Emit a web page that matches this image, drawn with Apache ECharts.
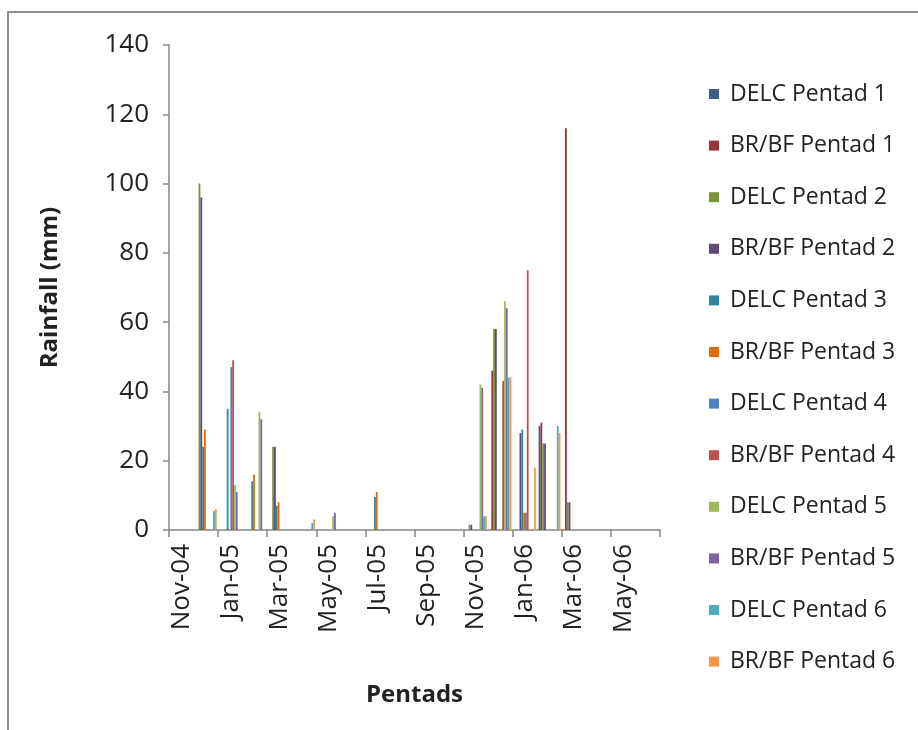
<!DOCTYPE html>
<html>
<head>
<meta charset="utf-8">
<script src="https://cdn.jsdelivr.net/npm/echarts@6/dist/echarts.min.js"></script>
<style>
html,body{margin:0;padding:0;background:#fff;}
#chart{width:918px;height:730px;}
</style>
</head>
<body>
<div id="chart"></div>
<script>
// Months (category slots) on the date axis
const months = ["Nov-04","Dec-04","Jan-05","Feb-05","Mar-05","Apr-05","May-05","Jun-05","Jul-05","Aug-05","Sep-05","Oct-05","Nov-05","Dec-05","Jan-06","Feb-06","Mar-06","Apr-06","May-06","Jun-06"];
const yTicks = [0,20,40,60,80,100,120,140];
const seriesNames = ["DELC Pentad 1","BR/BF Pentad 1","DELC Pentad 2","BR/BF Pentad 2","DELC Pentad 3","BR/BF Pentad 3","DELC Pentad 4","BR/BF Pentad 4","DELC Pentad 5","BR/BF Pentad 5","DELC Pentad 6","BR/BF Pentad 6"];
const seriesColors = ["#3A5F8E","#953735","#77933C","#604A7B","#31859C","#E46C0A","#4F81BD","#C0504D","#9BBB59","#8064A2","#4BACC6","#F79646"];

// Rainfall (mm) per month, one array per series (null = no bar)
const delcP1  = [null,null,null,null,null,null,null,null,null,null,null,null,null,null,null,30,null,null,null,null];
const brbfP1  = [null,null,null,null,null,null,null,null,null,null,null,null,null,46,null,31,116,null,null,null];
const delcP2  = [null,100,null,null,24,null,null,null,null,null,null,null,1.5,58,null,25,8,null,null,null];
const brbfP2  = [null,96,null,null,24,null,null,null,null,null,null,null,1.5,58,28,25,8,null,null,null];
const delcP3  = [null,24,35,14,7,null,null,null,9.5,null,null,null,null,null,29,null,null,null,null,null];
const brbfP3  = [null,29,null,16,8,null,null,null,11,null,null,null,null,null,5,null,null,null,null,null];
const delcP4  = [null,null,47,null,null,null,null,null,null,null,null,null,null,null,5,null,null,null,null,null];
const brbfP4  = [null,null,49,null,null,null,null,null,null,null,null,null,null,43,75,null,null,null,null,null];
const delcP5  = [null,null,13,34,null,null,4,null,null,null,null,null,42,66,null,null,null,null,null,null];
const brbfP5  = [null,null,11,32,null,null,5,null,null,null,null,null,41,64,null,null,null,null,null,null];
const delcP6  = [null,5.5,null,null,null,2,null,null,null,null,null,null,4,44,null,30,null,null,null,null];
const brbfP6  = [null,6,null,null,null,3,null,null,null,null,null,null,4,44,18,28,null,null,null,null];

const allData = [delcP1,brbfP1,delcP2,brbfP2,delcP3,brbfP3,delcP4,brbfP4,delcP5,brbfP5,delcP6,brbfP6];

const FONT = "'Open Sans', 'Noto Sans', sans-serif";
const TXT = "#222";
const AXIS = "#868686";

const chart = echarts.init(document.getElementById('chart'), null, {renderer:'canvas'});
const option = {
  backgroundColor: '#fff',
  animation: false,
  color: seriesColors,
  graphic: [{
    type: 'rect', silent: true, z: -1,
    shape: {x: 8, y: 12, width: 1000, height: 800},
    style: {fill: 'none', stroke: '#8c8c8c', lineWidth: 2}
  }],
  grid: {left: 169, right: 258, top: 45, bottom: 200, containLabel: false},
  legend: {
    orient: 'vertical', left: 704, top: 77,
    itemWidth: 10, itemHeight: 10, itemGap: 27.6, icon: 'rect',
    textStyle: {fontFamily: FONT, fontSize: 23, color: TXT, lineHeight: 24, padding: [0,0,0,6]},
    data: seriesNames
  },
  xAxis: {
    type: 'category', data: months, boundaryGap: true,
    name: 'Pentads', nameLocation: 'middle', nameGap: 153,
    nameTextStyle: {fontFamily: FONT, fontSize: 24, fontWeight: 'bold', color: TXT},
    axisLine: {show: true, lineStyle: {color: AXIS, width: 1.5}},
    axisTick: {show: true, interval: 1, length: 7, lineStyle: {color: AXIS, width: 1.5}},
    axisLabel: {interval: 1, rotate: 90, margin: 14, fontFamily: FONT, fontSize: 26, color: TXT},
    splitLine: {show: false}
  },
  yAxis: {
    type: 'value', min: yTicks[0], max: yTicks[yTicks.length-1], interval: 20,
    name: 'Rainfall (mm)', nameLocation: 'middle', nameGap: 107, nameRotate: 90,
    nameTextStyle: {fontFamily: FONT, fontSize: 24, fontWeight: 'bold', color: TXT},
    axisLine: {show: true, lineStyle: {color: AXIS, width: 1.5}},
    axisTick: {show: true, length: 6, lineStyle: {color: AXIS, width: 1.5}},
    axisLabel: {margin: 20, fontFamily: FONT, fontSize: 26, color: TXT},
    splitLine: {show: false}
  },
  series: seriesNames.map((n, i) => ({
    name: n, type: 'bar', data: allData[i],
    barGap: '0%', barCategoryGap: '11.1%',
    itemStyle: {color: seriesColors[i]}
  }))
};
chart.setOption(option);
</script>
</body>
</html>
